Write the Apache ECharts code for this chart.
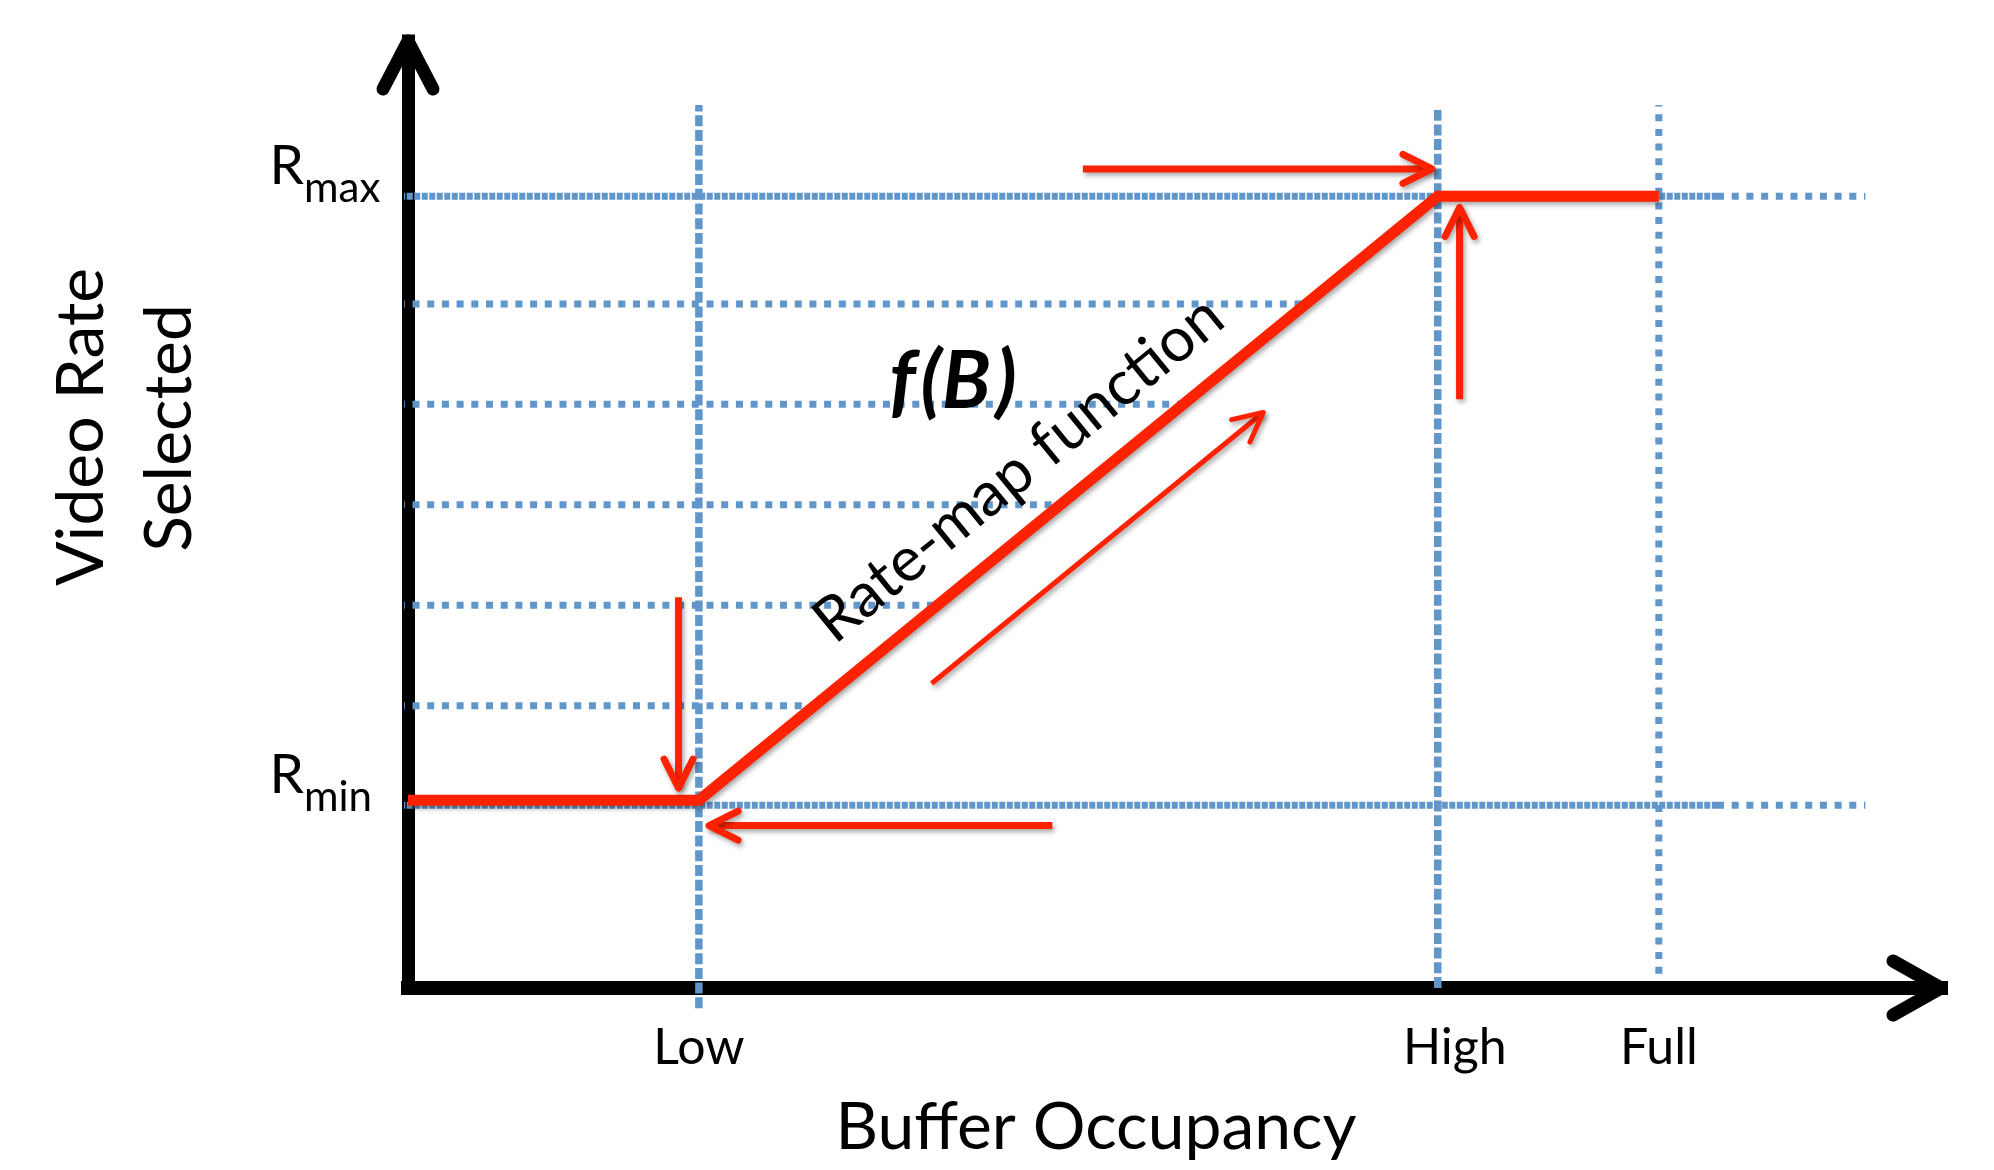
<!DOCTYPE html>
<html>
<head>
<meta charset="utf-8">
<title>Rate-map function</title>
<script src="https://cdn.jsdelivr.net/npm/echarts@6/dist/echarts.min.js"></script>
<style>
  html, body { margin: 0; padding: 0; background: #fff; }
  #chart { width: 1994px; height: 1170px; }
</style>
</head>
<body>
<div id="chart"></div>
<script>
// buffer thresholds on the x axis (arbitrary buffer units)
var bufferNames = ['Low', 'High', 'Full'];
var bufferLevels = [20, 70.8, 86];

// rate levels on the y axis, R_min ... R_max
var rateLevels = [1, 1.98, 2.97, 3.96, 4.95, 5.94, 7];
var rateSubs = ['min', '', '', '', '', '', 'max'];

// the rate-map function f(B)
var rateMapX = [0, 20, 70.8, 86];
var rateMapY = [1.05, 1.05, 7, 7];

// red arrows, start and end points in the same units
var arrowFrom = [[46.4, 7.27], [72.3, 5.0], [36.0, 2.2], [18.6, 3.05], [44.3, 0.8]];
var arrowTo = [[70.4, 7.27], [72.3, 6.89], [58.8, 4.87], [18.6, 1.17], [20.7, 0.8]];

// ---- layout / style ----
var BLUE = '#6196cb';
var RED = '#ff2200';
var FONT = 'Lato';
var X_MIN = 0, X_MAX = 105.4, Y_MIN = -0.8, Y_MAX = 8.53;
var guideLeft = -0.6, guideDenseEnd = 90, guideRight = 100.2;
var guideBottom = [-1.0, -0.8, -0.66], guideTop = [7.9, 7.85, 7.9];
var shadow = { shadowColor: 'rgba(0,0,0,0.35)', shadowBlur: 5, shadowOffsetX: 2, shadowOffsetY: 3 };

var chart = echarts.init(document.getElementById('chart'));

// x where f(B) reaches a given rate (on the rising part)
function invertRateMap(level) {
  for (var i = 1; i < rateMapX.length; i++) {
    var y0 = rateMapY[i - 1], y1 = rateMapY[i];
    if (y1 !== y0 && level >= Math.min(y0, y1) && level <= Math.max(y0, y1)) {
      return rateMapX[i - 1] + (level - y0) / (y1 - y0) * (rateMapX[i] - rateMapX[i - 1]);
    }
  }
  return rateMapX[rateMapX.length - 1];
}

function guide(points, dash, width) {
  return {
    type: 'line', data: points, symbol: 'none', silent: true, clip: false,
    animation: false, z: 2,
    lineStyle: { color: BLUE, width: width, type: dash, cap: 'butt' }
  };
}

var series = [];
rateLevels.forEach(function (lvl, i) {
  if (i === 0 || i === rateLevels.length - 1) {
    series.push(guide([[guideLeft, lvl], [guideDenseEnd, lvl]], [6, 1.5], 7));
    series.push(guide([[guideDenseEnd, lvl], [guideRight, lvl]], [7, 7.7], 7));
  } else {
    series.push(guide([[guideLeft - 0.1, lvl], [invertRateMap(lvl), lvl]], [7, 7.7], 7));
  }
});
bufferLevels.forEach(function (b, i) {
  var dense = i < 2;
  series.push(guide([[b, guideBottom[i]], [b, guideTop[i]]], dense ? [11, 3.7] : [7, 7.7], dense ? 7.5 : 7));
});
series.push({
  type: 'line',
  data: rateMapX.map(function (x, i) { return [x, rateMapY[i]]; }),
  symbol: 'none', silent: true, clip: false, animation: false, z: 5,
  lineStyle: Object.assign({ color: RED, width: 11, cap: 'butt', join: 'miter' }, shadow)
});

var tickFont = { color: '#000', fontFamily: FONT, fontSize: 50 };

chart.setOption({
  backgroundColor: '#fff',
  animation: false,
  grid: { left: 408, right: 53, top: 41, bottom: 182, containLabel: false, outerBoundsMode: 'none' },
  xAxis: {
    type: 'value', min: X_MIN, max: X_MAX, z: 0,
    splitLine: { show: false }, axisTick: { show: false },
    axisLine: { show: true, onZero: false, lineStyle: { color: '#000', width: 14, cap: 'square' } },
    axisLabel: {
      customValues: bufferLevels,
      formatter: function (v) {
        var i = bufferLevels.indexOf(v);
        return '{t' + i + '|' + bufferNames[i] + '}';
      },
      margin: 35, color: '#000', fontFamily: FONT, fontSize: 50,
      rich: {
        t0: tickFont,
        t1: Object.assign({ padding: [0, 0, 0, 34] }, tickFont),
        t2: tickFont
      }
    }
  },
  yAxis: {
    type: 'value', min: Y_MIN, max: Y_MAX, z: 0,
    splitLine: { show: false }, axisTick: { show: false }, axisLabel: { show: false },
    axisLine: { show: true, onZero: false, lineStyle: { color: '#000', width: 13, cap: 'square' } }
  },
  series: series
});

function px(p) { return chart.convertToPixel({ gridIndex: 0 }, p); }

function stroke(points, color, width, cap, z, withShadow) {
  var style = { stroke: color, fill: null, lineWidth: width, lineCap: cap, lineJoin: 'round' };
  if (withShadow) Object.assign(style, shadow);
  return { type: 'polyline', silent: true, z: z, shape: { points: points }, style: style };
}

// open arrow head (chevron) at tip b, pointing from a
function head(a, b, len, half) {
  var dx = b[0] - a[0], dy = b[1] - a[1], d = Math.sqrt(dx * dx + dy * dy);
  var ux = dx / d, uy = dy / d;
  return [
    [b[0] - ux * len - uy * half, b[1] - uy * len + ux * half],
    b,
    [b[0] - ux * len + uy * half, b[1] - uy * len - ux * half]
  ];
}

function text(str, x, y, size, opts) {
  opts = opts || {};
  return {
    type: 'text', silent: true, z: 20, x: x, y: y, rotation: opts.rotation || 0,
    style: {
      text: str, fill: '#000', fontFamily: FONT, fontSize: size,
      fontWeight: opts.weight || 'normal', fontStyle: opts.italic ? 'italic' : 'normal',
      align: opts.align || 'center', verticalAlign: 'middle'
    }
  };
}

var graphics = [];

// axis arrow heads
var origin = px([0, Y_MIN]);
var yTip = px([0, Y_MAX]);
var xTip = px([X_MAX, Y_MIN]);
graphics.push(stroke(head(origin, yTip, 48, 25), '#000', 13, 'round', 10, false));
graphics.push(stroke(head(origin, xTip, 48, 27), '#000', 13, 'round', 10, false));

// red arrows
arrowFrom.forEach(function (f, i) {
  var a = px(f), b = px(arrowTo[i]);
  var w = i === 2 ? 5 : 7;
  graphics.push(stroke([a, b], RED, w, 'butt', 12, true));
  graphics.push(stroke(head(a, b, 29, 14.5), RED, w, 'round', 12, true));
});

// R_min / R_max labels
rateLevels.forEach(function (lvl, i) {
  if (!rateSubs[i]) return;
  var p = px([0, lvl]);
  graphics.push(text('R', p[0] - 104, p[1] - 30, 55, { align: 'right' }));
  graphics.push(text(rateSubs[i], p[0] - 104, p[1] - 8, 42, { align: 'left' }));
});

// label along the rising part of f(B)
var d0 = px([rateMapX[1], rateMapY[1]]), d1 = px([rateMapX[2], rateMapY[2]]);
var ddx = d1[0] - d0[0], ddy = d1[1] - d0[1], dl = Math.sqrt(ddx * ddx + ddy * ddy);
var nx = ddy / dl, ny = -ddx / dl;
var t = 0.479;
graphics.push(text('Rate-map function',
  d0[0] + ddx * t + nx * 54, d0[1] + ddy * t + ny * 54, 62,
  { rotation: Math.atan2(-ddy, ddx) }));

graphics.push(text('f\u200a(B\u200a)', 953, 382, 80, { weight: 'bold', italic: true }));

// axis titles
graphics.push(text('Buffer Occupancy', 1096, 1128, 66));
graphics.push(text('Video Rate', 82, 427, 66, { rotation: Math.PI / 2 }));
graphics.push(text('Selected', 170, 428, 66, { rotation: Math.PI / 2 }));

chart.setOption({ graphic: graphics });
</script>
</body>
</html>
